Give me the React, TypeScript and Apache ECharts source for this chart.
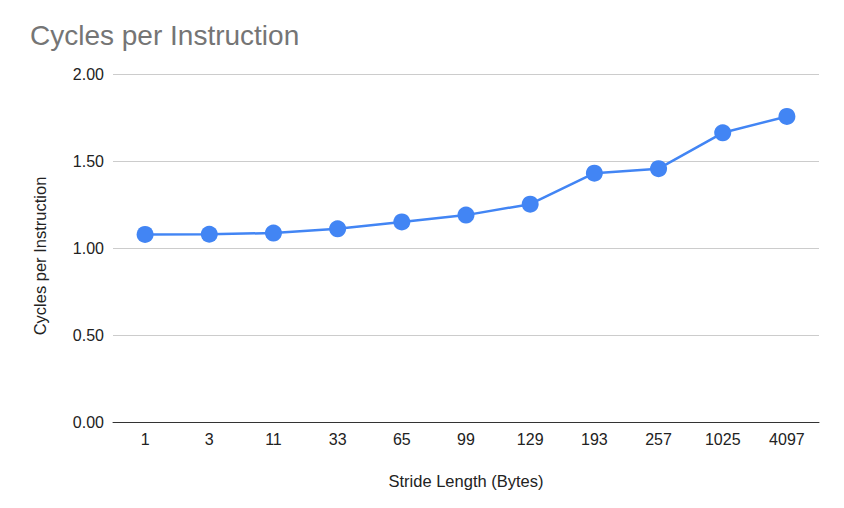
import React, { useEffect, useRef } from 'react';
import * as echarts from 'echarts';

const strides: string[] = ['1', '3', '11', '33', '65', '99', '129', '193', '257', '1025', '4097'];
const cpi: number[] = [1.078, 1.079, 1.086, 1.110, 1.150, 1.189, 1.252, 1.430, 1.456, 1.662, 1.756];

const FONT = '"Liberation Sans", Arial, sans-serif';

const App: React.FC = () => {
  const chartRef = useRef<HTMLDivElement | null>(null);

  useEffect(() => {
    const chart = echarts.init(chartRef.current!, undefined, { renderer: 'svg' });

    const option: echarts.EChartsOption = {
      animation: false,
      backgroundColor: '#fff',
      title: {
        text: 'Cycles per Instruction',
        left: 25,
        top: 16,
        textStyle: { color: '#757575', fontSize: 28, fontWeight: 'normal', fontFamily: FONT },
      },
      grid: { left: 113, right: 25, top: 74, bottom: 86 },
      xAxis: {
        type: 'category',
        data: strides,
        name: 'Stride Length (Bytes)',
        nameLocation: 'middle',
        nameGap: 50,
        nameTextStyle: { color: '#222', fontSize: 16.5, fontFamily: FONT },
        axisLine: { lineStyle: { color: '#333', width: 1 } },
        axisTick: { show: false },
        axisLabel: { color: '#222', fontSize: 16, fontFamily: FONT, margin: 9 },
      },
      yAxis: {
        type: 'value',
        min: 0,
        max: 2,
        interval: 0.5,
        name: 'Cycles per Instruction',
        nameLocation: 'middle',
        nameGap: 65,
        nameTextStyle: { color: '#222', fontSize: 16.5, fontFamily: FONT, padding: [0, 16, 0, 0] },
        axisLabel: {
          color: '#222',
          fontSize: 16,
          fontFamily: FONT,
          margin: 9,
          formatter: (v: number) => v.toFixed(2),
        },
        splitLine: { lineStyle: { color: '#cccccc', width: 1 } },
      },
      series: [
        {
          name: 'Cycles per Instruction',
          type: 'line',
          data: cpi,
          symbol: 'circle',
          symbolSize: 17,
          itemStyle: { color: '#4285F4' },
          lineStyle: { color: '#4285F4', width: 2.5 },
        },
      ],
    };

    chart.setOption(option);

    return () => {
      chart.dispose();
    };
  }, []);

  return <div ref={chartRef} style={{ width: '844px', height: '508px', position: 'absolute', left: 0, top: 0 }} />;
};

export default App;
